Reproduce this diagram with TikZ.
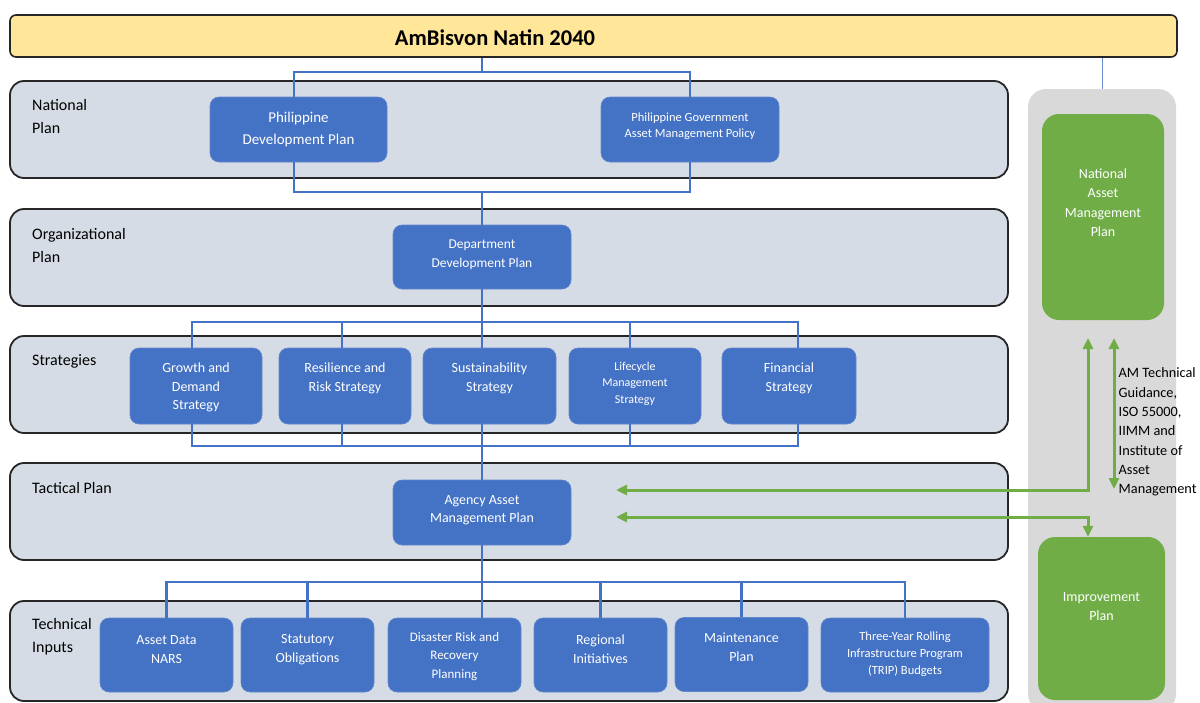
\documentclass[tikz,border=0pt]{standalone}
\usepackage{fontspec}
\setmainfont{Carlito}
\usetikzlibrary{arrows.meta}
\definecolor{bandfill}{HTML}{D6DCE5}
\definecolor{boxblue}{HTML}{4472C4}
\definecolor{bannerfill}{HTML}{FFE699}
\definecolor{gfill}{HTML}{70AD47}
\definecolor{panelgrey}{HTML}{D9D9D9}
\begin{document}
\begin{tikzpicture}[x=1pt,y=-1pt,
  band/.style={draw=black!85, line width=1.8pt, fill=bandfill, rounded corners=14pt, inner sep=0pt},
  banner/.style={draw=black!85, line width=1.6pt, fill=bannerfill, rounded corners=6pt, inner sep=0pt},
  bbox/.style={fill=boxblue, draw=boxblue!85!white, line width=0.6pt, rounded corners=9pt, inner sep=0pt},
  gbox/.style={fill=gfill, rounded corners=17pt, inner sep=0pt},
  panel/.style={fill=panelgrey, rounded corners=18pt, inner sep=0pt},
  btext/.style={text=white, align=center, inner sep=0pt},
  lbl/.style={text=black, align=left, anchor=west, inner sep=0pt, font=\fontsize{16}{23}\selectfont},
  conn/.style={draw=boxblue, line width=2.6pt},
  thinconn/.style={draw=boxblue!80!white, line width=1pt},
  garrow/.style={draw=gfill, line width=3pt, {Triangle[length=11pt,width=10pt]}-{Triangle[length=11pt,width=10pt]}}
]
\useasboundingbox (0,0) rectangle (1200,702);

% right panel and banner
\node[panel, minimum width=148, minimum height=623] (panel) at (1102,400.5) {};
\node[banner, minimum width=1167, minimum height=42] (banner) at (593.5,36) {};
\node[inner sep=0pt, font=\fontsize{22.5}{26}\selectfont\bfseries] (title) at (495,38) {AmBisvon Natin 2040};

% bands
\node[band, minimum width=998, minimum height=97] (bnat) at (509,129.5) {};
\node[band, minimum width=998, minimum height=97] (borg) at (509,257.5) {};
\node[band, minimum width=998, minimum height=97] (bstr) at (509,384.5) {};
\node[band, minimum width=998, minimum height=97] (btac) at (509,511.5) {};
\node[band, minimum width=998, minimum height=100] (btec) at (509,651) {};

\node[lbl] (lnat) at (32,116.5) {National\\Plan};
\node[lbl] (lorg) at (32,245) {Organizational\\Plan};
\node[lbl] (lstr) at (32,361) {Strategies};
\node[lbl] (ltac) at (32,488) {Tactical Plan};
\node[lbl] (ltec) at (32,637) {Technical\\Inputs};

% national
\node[bbox, minimum width=177, minimum height=65] (pdp) at (298.5,129.5) {};
\node[btext, font=\fontsize{15}{22}\selectfont] (tpdp) at (298.5,129.5) {Philippine\\Development Plan};
\node[bbox, minimum width=178, minimum height=65] (pgamp) at (690,129.5) {};
\node[btext, font=\fontsize{12.5}{16}\selectfont] (tpgamp) at (690,126) {Philippine Government\\Asset Management Policy};

% organizational
\node[bbox, minimum width=178, minimum height=64] (ddp) at (482,257) {};
\node[btext, font=\fontsize{13.5}{19}\selectfont] (tddp) at (482,254.5) {Department\\Development Plan};

% strategies
\node[bbox, minimum width=132, minimum height=76] (gd) at (196,386) {};
\node[btext, font=\fontsize{14}{18.5}\selectfont] (tgd) at (196,387.5) {Growth and\\Demand\\Strategy};
\node[bbox, minimum width=132, minimum height=76] (rr) at (345,386) {};
\node[btext, font=\fontsize{14}{19}\selectfont] (trr) at (345,378.5) {Resilience and\\Risk Strategy};
\node[bbox, minimum width=133, minimum height=76] (ss) at (489.5,386) {};
\node[btext, font=\fontsize{14}{19}\selectfont] (tss) at (489.5,378.5) {Sustainability\\Strategy};
\node[bbox, minimum width=132, minimum height=76] (lm) at (635,386) {};
\node[btext, font=\fontsize{12}{16.5}\selectfont] (tlm) at (635,383.5) {Lifecycle\\Management\\Strategy};
\node[bbox, minimum width=134, minimum height=76] (fs) at (789,386) {};
\node[btext, font=\fontsize{14}{19}\selectfont] (tfs) at (789,378.5) {Financial\\Strategy};

% tactical
\node[bbox, minimum width=178, minimum height=65] (aamp) at (482,512.5) {};
\node[btext, font=\fontsize{14}{18}\selectfont] (taamp) at (482,510) {Agency Asset\\Management Plan};

% technical inputs
\node[bbox, minimum width=133, minimum height=74] (ad) at (166.5,655) {};
\node[btext, font=\fontsize{14}{19}\selectfont] (tad) at (166.5,649.5) {Asset Data\\NARS};
\node[bbox, minimum width=133, minimum height=74] (so) at (307.5,655) {};
\node[btext, font=\fontsize{14}{19}\selectfont] (tso) at (307.5,649.5) {Statutory\\Obligations};
\node[bbox, minimum width=133, minimum height=74] (dr) at (454.5,655) {};
\node[btext, font=\fontsize{13}{18.5}\selectfont] (tdr) at (454.5,656.5) {Disaster Risk and\\Recovery\\Planning};
\node[bbox, minimum width=133, minimum height=74] (ri) at (600.5,655) {};
\node[btext, font=\fontsize{14}{19}\selectfont] (tri) at (600.5,649.5) {Regional\\Initiatives};
\node[bbox, minimum width=133, minimum height=74] (mp) at (741.5,654.5) {};
\node[btext, font=\fontsize{14}{19}\selectfont] (tmp) at (741.5,647.5) {Maintenance\\Plan};
\node[bbox, minimum width=168, minimum height=74] (trip) at (905,655) {};
\node[btext, font=\fontsize{12.5}{17}\selectfont] (ttrip) at (905,654) {Three-Year Rolling\\Infrastructure Program\\(TRIP) Budgets};

% green boxes
\node[gbox, minimum width=122, minimum height=206] (nam) at (1103,217) {};
\node[btext, font=\fontsize{14}{19.5}\selectfont] (tnam) at (1103,202.5) {National\\Asset\\Management\\Plan};
\node[gbox, minimum width=127, minimum height=163] (imp) at (1101.5,618.5) {};
\node[btext, font=\fontsize{14}{19}\selectfont] (timp) at (1101.5,606.5) {Improvement\\Plan};

% AM guidance text
\node[inner sep=0pt, align=left, anchor=west, font=\fontsize{14.3}{19.33}\selectfont] (amtext) at (1118.5,432) {AM Technical\\Guidance,\\ISO 55000,\\IIMM and\\Institute of\\Asset\\Management};

% blue connectors
\coordinate (n1) at (482,72);
\coordinate (n2) at (482,192);
\coordinate (s1) at (482,322);
\coordinate (s2) at (482,446);
\coordinate (t2) at (482,582);
\coordinate (pdpT) at ([xshift=-4.5]pdp.north);
\coordinate (pdpB) at ([xshift=-4.5]pdp.south);
\coordinate (gdT) at ([xshift=-4]gd.north);
\coordinate (gdB) at ([xshift=-4]gd.south);
\coordinate (rrT) at ([xshift=-3]rr.north);
\coordinate (rrB) at ([xshift=-3]rr.south);
\coordinate (lmT) at ([xshift=-5]lm.north);
\coordinate (lmB) at ([xshift=-5]lm.south);
\coordinate (fsT) at ([xshift=9]fs.north);
\coordinate (fsB) at ([xshift=9]fs.south);

\draw[conn] (banner.south -| n1) -- (n1);
\draw[conn] (pdpT) |- (pgamp.north |- n1) -- (pgamp.north);
\draw[conn] (pdpB) |- (pgamp.south |- n2) -- (pgamp.south);
\draw[conn] (n2) -- (ddp.north);
\draw[conn] (ddp.south) -- (ss.north -| s1);
\draw[conn] (gdT) |- (fsT |- s1) -- (fsT);
\draw[conn] (rrT) -- (rrT |- s1);
\draw[conn] (lmT) -- (lmT |- s1);
\draw[conn] (gdB) |- (fsB |- s2) -- (fsB);
\draw[conn] (rrB) -- (rrB |- s2);
\draw[conn] (lmB) -- (lmB |- s2);
\draw[conn] (ss.south -| s2) -- (aamp.north);
\draw[conn] (aamp.south) -- (dr.north -| t2);
\draw[conn] (ad.north) |- (trip.north |- t2) -- (trip.north);
\draw[conn] (so.north) -- (so.north |- t2);
\draw[conn] (ri.north) -- (ri.north |- t2);
\draw[conn] (mp.north) -- (mp.north |- t2);
\draw[thinconn] (banner.south -| panel.north) -- (panel.north);

% green arrows
\coordinate (ga1) at (616,490);
\coordinate (ga1t) at (1088,338);
\coordinate (ga2t) at (1114,338);
\coordinate (ga2b) at (1114,489);
\coordinate (ga3) at (616,517);
\coordinate (impT) at ([xshift=-13.5]imp.north);
\draw[garrow] (ga1) -| (ga1t);
\draw[garrow] (ga2t) -- (ga2b);
\draw[garrow] (ga3) -| (impT);
\end{tikzpicture}
\end{document}
